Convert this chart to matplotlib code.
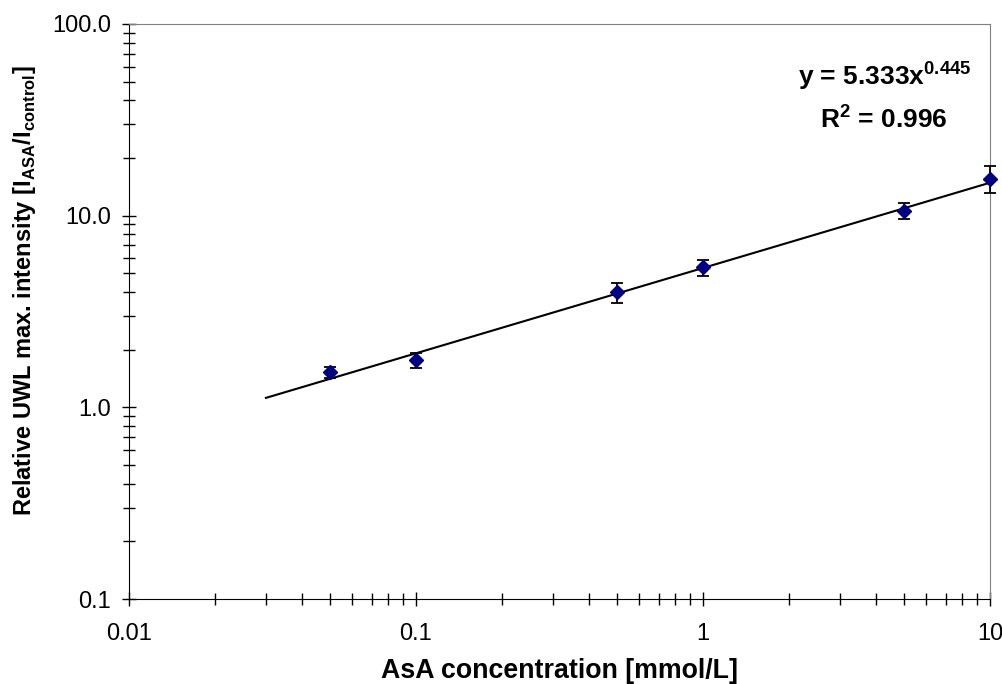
import matplotlib.pyplot as plt
import numpy as np

plt.rcParams['font.family'] = ['Liberation Sans', 'DejaVu Sans']

# AsA concentration [mmol/L] and relative UWL intensity
conc = [0.05, 0.1, 0.5, 1, 5, 10]
intensity = [1.52, 1.76, 3.98, 5.37, 10.6, 15.5]
err_low = [0.10, 0.15, 0.48, 0.50, 1.0, 2.4]
err_high = [0.10, 0.15, 0.45, 0.50, 1.1, 2.6]

fit_a = 5.333
fit_b = 0.445
fit_range = [0.03, 10]

yticks = [0.1, 1, 10, 100]
ytick_labels = ["0.1", "1.0", "10.0", "100.0"]
xticks = [0.01, 0.1, 1, 10]
xtick_labels = ["0.01", "0.1", "1", "10"]

fig = plt.figure(figsize=(10.03, 6.84), dpi=100)
ax = fig.add_axes([129 / 1003, 85 / 684, 861 / 1003, 575 / 684])

xf = np.array(fit_range)
ax.plot(xf, fit_a * xf ** fit_b, color="black", lw=1.5, zorder=2)
ax.errorbar(conc, intensity, yerr=[err_low, err_high], fmt="D", color="#000080",
            ms=7.5, ecolor="black", elinewidth=1.3, capsize=4.5, capthick=1.3, zorder=3,
            clip_on=False)

ax.set_xscale("log")
ax.set_yscale("log")
ax.set_xlim(0.01, 10)
ax.set_ylim(0.1, 100)
ax.set_xticks(xticks)
ax.set_xticklabels(xtick_labels)
ax.set_yticks(yticks)
ax.set_yticklabels(ytick_labels)

ax.tick_params(which="major", direction="inout", length=10, width=1, labelsize=17)
ax.tick_params(which="minor", direction="inout", length=8, width=1)
ax.tick_params(axis="x", which="major", pad=12)
ax.tick_params(axis="y", which="major", pad=8)

ax.spines["top"].set_color("#808080")
ax.spines["right"].set_color("#808080")
for s in ["left", "bottom"]:
    ax.spines[s].set_color("black")

ax.set_xlabel("AsA concentration [mmol/L]", fontsize=19.3, fontweight="bold", labelpad=10)
ax.set_ylabel(r"Relative UWL max. intensity [I$_{\mathregular{ASA}}$/I$_{\mathregular{control}}$]",
              fontsize=17, fontweight="bold")
ax.yaxis.set_label_coords(-0.106, 0.536)

ax.text(0.878, 0.911, r"y = 5.333x$^{\mathregular{0.445}}$", transform=ax.transAxes,
        ha="center", va="center", fontsize=19, fontweight="bold")
ax.text(0.876, 0.835, r"R$^{\mathregular{2}}$ = 0.996", transform=ax.transAxes,
        ha="center", va="center", fontsize=19, fontweight="bold")

fig.savefig("out.png", dpi=100)
